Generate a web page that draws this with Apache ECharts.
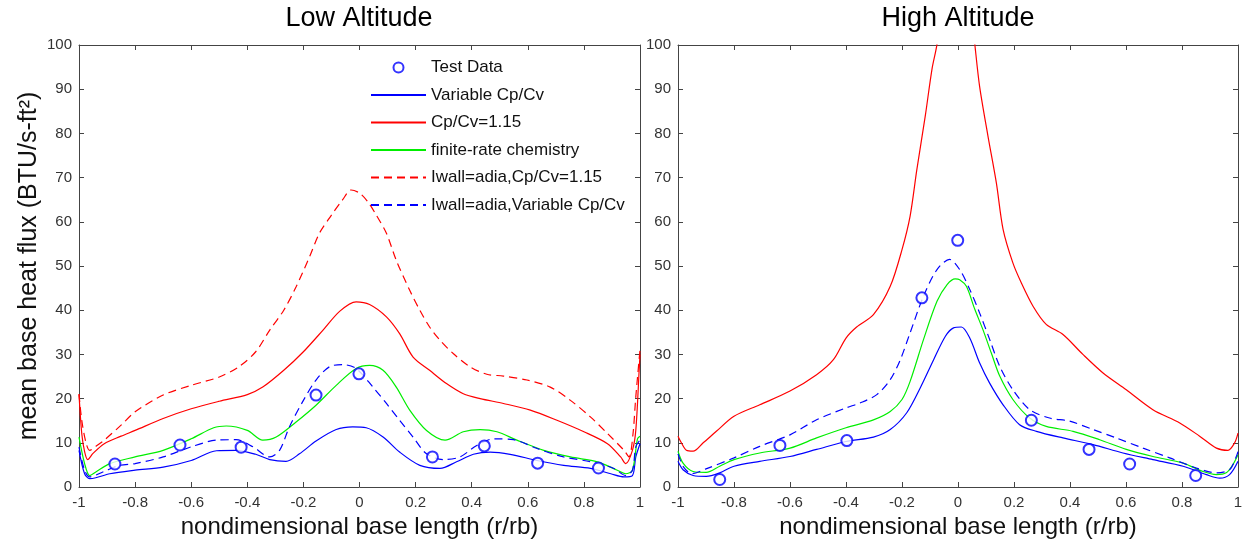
<!DOCTYPE html>
<html>
<head>
<meta charset="utf-8">
<script src="https://cdn.jsdelivr.net/npm/echarts@6/dist/echarts.min.js"></script>
<style>html,body{margin:0;padding:0;background:#fff}#c{width:1248px;height:544px}</style>
</head>
<body>
<div id="c"></div>
<script>
// ---------- DATA ----------
const panelTitles = ['Low Altitude', 'High Altitude'];
const xAxisLabel = 'nondimensional base length (r/rb)';
const yAxisLabel = 'mean base heat flux (BTU/s-ft\u00B2)';
const seriesNames = ['Test Data', 'Variable Cp/Cv', 'Cp/Cv=1.15', 'finite-rate chemistry', 'Iwall=adia,Cp/Cv=1.15', 'Iwall=adia,Variable Cp/Cv'];

// Low altitude
const lowTest = [[-0.872,5.2],[-0.640,9.5],[-0.422,9.0],[-0.155,20.8],[-0.002,25.6],[0.26,6.8],[0.445,9.3],[0.635,5.4],[0.852,4.3]];
const lowVar = [[-1,8.3],[-0.98,3.0],[-0.962,1.9],[-0.94,2.1],[-0.89,3.0],[-0.80,3.8],[-0.70,4.5],[-0.60,6.0],[-0.51,8.2],[-0.44,8.3],[-0.37,7.4],[-0.32,6.2],[-0.262,5.8],[-0.214,7.5],[-0.155,10.4],[-0.083,13],[-0.024,13.6],[0.024,13.4],[0.084,11.3],[0.143,7.9],[0.215,4.9],[0.287,4.2],[0.346,5.7],[0.406,7.4],[0.466,7.9],[0.537,7.4],[0.633,6.0],[0.728,4.9],[0.824,4.2],[0.896,3.0],[0.943,2.3],[0.973,2.6],[0.985,6.8],[1,9.8]];
const lowCp115 = [[-1,21],[-0.99,12],[-0.98,8],[-0.969,6.2],[-0.95,7.6],[-0.91,9.8],[-0.85,11.5],[-0.80,12.8],[-0.70,15.5],[-0.60,17.7],[-0.50,19.4],[-0.40,20.9],[-0.345,22.6],[-0.27,26.4],[-0.20,30.6],[-0.13,35.5],[-0.07,39.8],[-0.012,41.9],[0.036,41.3],[0.096,38.5],[0.143,34.7],[0.191,29.4],[0.25,26.4],[0.31,23.4],[0.37,21.1],[0.43,20],[0.513,18.9],[0.609,17.4],[0.704,15.1],[0.80,12.5],[0.884,9.8],[0.931,6.8],[0.949,5.3],[0.973,8.3],[0.985,12.8],[0.997,26.4],[1,30]];
const lowFinite = [[-1,11.3],[-0.98,5.3],[-0.962,2.6],[-0.94,3.4],[-0.89,5.3],[-0.80,6.8],[-0.70,8.3],[-0.60,10.9],[-0.52,13.4],[-0.475,13.8],[-0.40,12.8],[-0.345,10.6],[-0.297,11.3],[-0.226,14.7],[-0.155,18.5],[-0.083,23],[-0.012,26.8],[0.036,27.5],[0.084,26.4],[0.131,22.6],[0.179,17.4],[0.239,12.8],[0.305,10.6],[0.37,12.5],[0.43,13],[0.49,12.5],[0.561,10.6],[0.657,8.3],[0.752,6.8],[0.848,5.7],[0.919,3.8],[0.949,3.0],[0.973,3.8],[0.991,10.9],[1,11.5]];
const lowAdia115 = [[-1,21],[-0.99,15],[-0.975,10],[-0.962,8.3],[-0.94,9.2],[-0.91,10.6],[-0.85,14],[-0.80,17],[-0.70,20.8],[-0.60,23],[-0.50,24.9],[-0.43,27.2],[-0.37,30.6],[-0.32,35.5],[-0.27,40],[-0.226,45.3],[-0.178,52.1],[-0.143,57.4],[-0.10,61.5],[-0.06,65],[-0.03,67.2],[0,66.5],[0.03,64.5],[0.06,61.5],[0.096,57.4],[0.131,51.3],[0.179,44.5],[0.215,40],[0.25,36.2],[0.287,33.2],[0.334,30.2],[0.394,27.2],[0.454,25.5],[0.513,25.1],[0.597,24.2],[0.68,22.6],[0.752,19.6],[0.824,15.8],[0.884,12.1],[0.943,8.3],[0.961,6.8],[0.975,12],[0.985,20.4],[1,31]];
const lowAdiaVar = [[-1,9],[-0.98,3.8],[-0.962,2.3],[-0.915,3.4],[-0.855,4.9],[-0.80,5.3],[-0.70,6.8],[-0.60,9.1],[-0.51,10.6],[-0.44,10.7],[-0.38,9.1],[-0.32,6.8],[-0.285,8.3],[-0.25,13.6],[-0.20,19.6],[-0.155,24.2],[-0.107,27.2],[-0.06,27.7],[-0.012,26.8],[0.048,22.6],[0.096,18.9],[0.143,15.1],[0.191,11.3],[0.239,7.5],[0.3,6.2],[0.358,6.8],[0.418,9.4],[0.478,10.9],[0.549,10.7],[0.633,8.7],[0.728,6.8],[0.824,5.7],[0.907,4.2],[0.949,2.6],[0.973,3.8],[0.985,9.1],[1,10.6]];

// High altitude
const highTest = [[-0.851,1.7],[-0.636,9.4],[-0.397,10.5],[-0.129,42.8],[-0.001,55.8],[0.262,15.1],[0.468,8.5],[0.613,5.2],[0.849,2.6]];
const highVar = [[-1,5.8],[-0.982,3.9],[-0.946,2.6],[-0.899,2.4],[-0.851,3.2],[-0.80,4.7],[-0.708,5.8],[-0.60,6.9],[-0.505,8.5],[-0.40,10.3],[-0.302,11.3],[-0.242,13],[-0.183,16.8],[-0.135,22.4],[-0.087,28.8],[-0.045,34.1],[-0.016,36],[0.012,36.2],[0.042,33.7],[0.077,28.1],[0.113,23.5],[0.161,18.6],[0.22,14.1],[0.28,12.6],[0.375,11.1],[0.482,9.6],[0.589,7.7],[0.696,6.2],[0.804,4.7],[0.887,2.8],[0.935,2.0],[0.97,2.8],[1,5.8]];
const highCp115 = [[-1,11.5],[-0.988,10],[-0.97,8.3],[-0.946,8.1],[-0.91,10],[-0.863,12.6],[-0.80,16],[-0.708,18.6],[-0.60,21.7],[-0.505,25.4],[-0.445,28.8],[-0.40,33.7],[-0.362,36.2],[-0.302,39],[-0.242,45.4],[-0.20,53.7],[-0.171,61.3],[-0.147,71.8],[-0.117,83.9],[-0.093,94.5],[-0.075,100.2],[-0.04,118],[0,130],[0.03,118],[0.06,100.2],[0.077,90.7],[0.107,79.4],[0.137,68.8],[0.161,58.3],[0.196,50.7],[0.226,46.2],[0.268,40.9],[0.315,36.8],[0.375,34.5],[0.446,30],[0.518,25.8],[0.601,22],[0.696,17.5],[0.792,14.5],[0.863,11.5],[0.923,8.8],[0.964,8.3],[0.988,10],[1,12.2]];
const highFinite = [[-1,8.1],[-0.982,5.4],[-0.946,3.5],[-0.899,3.3],[-0.851,4.7],[-0.80,6.2],[-0.708,7.7],[-0.60,8.8],[-0.505,11.1],[-0.40,13.4],[-0.302,15.2],[-0.242,17.1],[-0.20,19.8],[-0.171,23.9],[-0.123,33.4],[-0.075,42],[-0.039,45.8],[-0.01,47.1],[0.006,46.9],[0.03,45.4],[0.06,40.2],[0.089,35.6],[0.119,30.3],[0.149,25.1],[0.196,19.8],[0.256,15.6],[0.315,13.7],[0.411,12.6],[0.506,10.7],[0.601,8.5],[0.696,6.9],[0.804,5.4],[0.875,3.5],[0.923,2.8],[0.958,3.2],[0.982,5.1],[1,7.3]];
const highAdiaVar = [[-1,7.5],[-0.98,4.5],[-0.95,3.0],[-0.90,4.1],[-0.80,6.6],[-0.708,9.2],[-0.60,11.8],[-0.505,15.2],[-0.40,17.9],[-0.35,19],[-0.29,20.9],[-0.242,24.3],[-0.206,28.8],[-0.171,34.9],[-0.123,43.2],[-0.075,49.2],[-0.03,51.5],[0.006,49.2],[0.042,44.7],[0.077,39.4],[0.113,33.4],[0.149,27.3],[0.196,22],[0.256,17.5],[0.327,15.6],[0.399,14.9],[0.482,13],[0.565,11.1],[0.661,8.8],[0.756,6.6],[0.851,4.3],[0.923,3.2],[0.97,3.9],[0.994,6.9],[1,8]];

// ---------- CHART ----------
const FONT = '"Liberation Sans", Arial, Helvetica, sans-serif';
const AXC = '#444';
const BLUE = '#0000ff', RED = '#ff0000', GREEN = '#00ee00';

function xAxes(gi) {
  const common = {
    gridIndex: gi, type: 'value', min: -1, max: 1, interval: 0.2,
    axisLine: { show: true, onZero: false, lineStyle: { color: AXC, width: 1 } },
    axisTick: { show: true, inside: true, length: 5, lineStyle: { color: AXC } },
    splitLine: { show: false }
  };
  return [
    Object.assign({}, common, {
      position: 'bottom',
      axisLabel: { color: '#333', fontSize: 15, fontFamily: FONT, margin: 8 },
      name: xAxisLabel, nameLocation: 'middle', nameGap: 27,
      nameTextStyle: { fontSize: 24, fontFamily: FONT, color: '#111' }
    }),
    Object.assign({}, common, { position: 'top', axisLabel: { show: false } })
  ];
}
function yAxes(gi, withName) {
  const common = {
    gridIndex: gi, type: 'value', min: 0, max: 100, interval: 10,
    axisLine: { show: true, onZero: false, lineStyle: { color: AXC, width: 1 } },
    axisTick: { show: true, inside: true, length: 5, lineStyle: { color: AXC } },
    splitLine: { show: false }
  };
  const left = Object.assign({}, common, {
    position: 'left',
    axisLabel: { color: '#333', fontSize: 15, fontFamily: FONT, margin: 7 }
  });
  if (withName) {
    Object.assign(left, {
      name: yAxisLabel, nameLocation: 'middle', nameGap: 37,
      nameTextStyle: { fontSize: 25, fontFamily: FONT, color: '#111' }
    });
  }
  return [left, Object.assign({}, common, { position: 'right', axisLabel: { show: false } })];
}

function lineSeries(name, data, color, dashed, xi, yi) {
  return {
    name: name, type: 'line', data: data, xAxisIndex: xi, yAxisIndex: yi,
    symbol: 'none', showSymbol: false, smooth: 0.3, clip: true,
    lineStyle: { color: color, width: 1.2, type: dashed ? [8, 5] : 'solid' },
    itemStyle: { color: color }, z: 2
  };
}
function scatterSeries(name, data, xi, yi) {
  return {
    name: name, type: 'scatter', data: data, xAxisIndex: xi, yAxisIndex: yi,
    symbol: 'emptyCircle', symbolSize: 11,
    itemStyle: { color: BLUE, borderColor: BLUE, borderWidth: 1.3 }, z: 3
  };
}

const panels = [
  { test: lowTest, v: lowVar, cp: lowCp115, fin: lowFinite, adcp: lowAdia115, adv: lowAdiaVar },
  { test: highTest, v: highVar, cp: highCp115, fin: highFinite, adv: highAdiaVar }
];

const series = [];
panels.forEach(function (p, i) {
  const xi = i * 2, yi = i * 2;
  series.push(scatterSeries(seriesNames[0], p.test, xi, yi));
  series.push(lineSeries(seriesNames[1], p.v, BLUE, false, xi, yi));
  series.push(lineSeries(seriesNames[2], p.cp, RED, false, xi, yi));
  series.push(lineSeries(seriesNames[3], p.fin, GREEN, false, xi, yi));
  if (p.adcp) series.push(lineSeries(seriesNames[4], p.adcp, RED, true, xi, yi));
  if (p.adv) series.push(lineSeries(seriesNames[5], p.adv, BLUE, true, xi, yi));
});

const legendData = seriesNames.map(function (n, i) {
  return i === 0 ? { name: n } : { name: n, itemStyle: { opacity: 0 } };
});

const option = {
  backgroundColor: '#fff',
  animation: false,
  grid: [
    { left: 79, right: 608, top: 45, bottom: 57 },
    { left: 678, right: 10, top: 45, bottom: 57 }
  ],
  xAxis: xAxes(0).concat(xAxes(1)),
  yAxis: yAxes(0, true).concat(yAxes(1, false)),
  legend: {
    orient: 'vertical', left: 365, top: 54,
    itemWidth: 55, itemHeight: 10, itemGap: 10.5, itemTextGap: 5,
    textStyle: { fontSize: 17, fontFamily: FONT, color: '#111' },
    data: legendData
  },
  graphic: [
    { type: 'text', x: 359, y: 19, style: { text: panelTitles[0], fontSize: 27, fontFamily: FONT, fill: '#000', align: 'center', verticalAlign: 'middle' } },
    { type: 'text', x: 958, y: 19, style: { text: panelTitles[1], fontSize: 27, fontFamily: FONT, fill: '#000', align: 'center', verticalAlign: 'middle' } }
  ],
  series: series
};

const chart = echarts.init(document.getElementById('c'), null, { renderer: 'canvas' });
chart.setOption(option);
</script>
</body>
</html>
